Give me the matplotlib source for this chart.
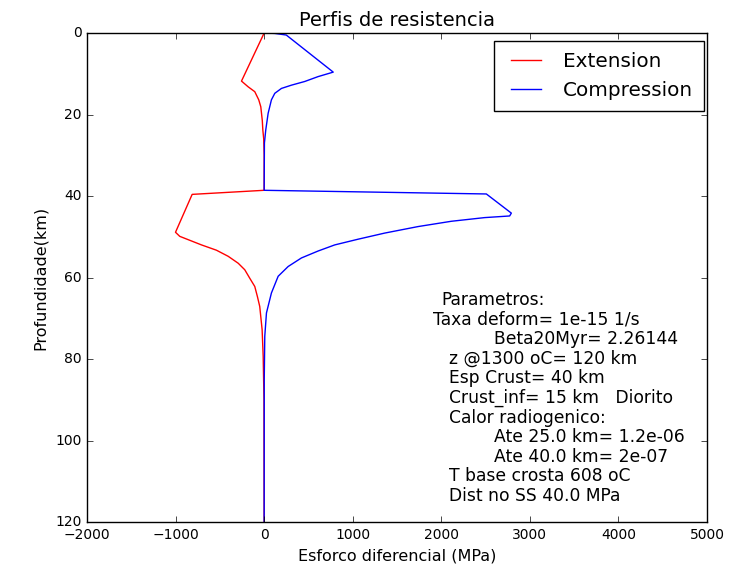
# perfis de resistencia - extensao vs compressao
import numpy as np
import matplotlib
matplotlib.use('Agg')
import matplotlib.pyplot as plt

plt.style.use('classic')

# profundidade (km) e esforco diferencial (MPa)
z_ext = [0, 11.8, 13.2, 14.4, 16.4, 18.1, 19.7, 21.5, 23.8, 26.0, 30.0, 38.6,
         39.6, 48.9, 49.9, 52.0, 53.3, 54.8, 56.5, 58.1, 60.2, 62.2, 64.7, 67.1,
         72.8, 79.3, 90.0, 120.0]
s_ext = [0, -256, -181, -106, -61, -38, -30, -21, -15, -5, 0, 0,
         -813, -1001, -953, -708, -539, -406, -293, -219, -162, -106, -76, -50,
         -23, -11, -2, 0]

z_comp = [0, 0.1, 0.5, 9.6, 10.7, 11.9, 12.8, 13.6, 14.8, 16.4, 19.7, 23.8, 27.0, 38.6,
          39.5, 44.2, 44.9, 45.3, 46.2, 47.5, 49.1, 50.6, 52.0, 53.5, 55.2, 57.3,
          59.7, 63.8, 68.7, 74.4, 85.0, 120.0]
s_comp = [0, 120, 250, 780, 609, 458, 308, 195, 120, 82, 45, 18, 3, 0,
          2509, 2791, 2772, 2490, 2114, 1738, 1361, 1061, 797, 609, 421, 271,
          158, 82, 26, 7, 1, 0]

param_lines = ['Parametros:',
               'Taxa deform= 1e-15 1/s',
               'Beta20Myr= 2.26144',
               'z @1300 oC= 120 km',
               'Esp Crust= 40 km',
               'Crust_inf= 15 km   Diorito',
               'Calor radiogenico:',
               'Ate 25.0 km= 1.2e-06',
               'Ate 40.0 km= 2e-07',
               'T base crosta 608 oC',
               'Dist no SS 40.0 MPa']
param_x = [2000, 1910, 2600, 2090, 2090, 2090, 2090, 2600, 2600, 2090, 2090]

fig = plt.figure(figsize=(7.32, 5.70), dpi=100, facecolor='white')
ax = fig.add_axes([0.1189, 0.0842, 0.8469, 0.8579])
ax.set_facecolor('white')

ax.plot(s_ext, z_ext, 'r-', lw=1.0, label='Extension')
ax.plot(s_comp, z_comp, 'b-', lw=1.0, label='Compression')

ax.set_xlim(-2000, 5000)
ax.set_ylim(120, 0)
ax.set_xticks(np.arange(-2000, 5001, 1000))
ax.set_yticks(np.arange(0, 121, 20))
ax.tick_params(labelsize=10)

ax.set_title('Perfis de resistencia', fontsize=14)
ax.set_xlabel('Esforco diferencial (MPa)', fontsize=11.5)
ax.set_ylabel('Profundidade(km)', fontsize=11.5)

leg = ax.legend(loc='upper right', bbox_to_anchor=(0.995, 0.984), borderaxespad=0,
                fontsize=14.4, fancybox=False, borderpad=0.55, handlelength=2.1)

for i, line in enumerate(param_lines):
    ax.text(param_x[i], 65.5 + i * 4.81, line, fontsize=12.3, va='center', ha='left')

fig.savefig('out.png', dpi=100, facecolor='white')
